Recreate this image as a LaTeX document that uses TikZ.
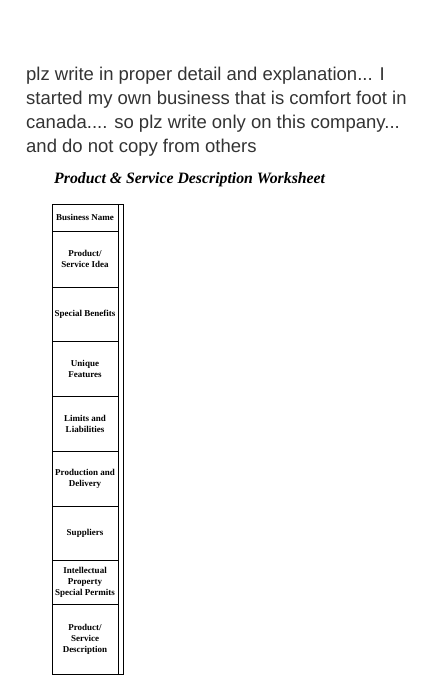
\documentclass[tikz,border=0pt]{standalone}
\usepackage{fontspec}
\setmainfont{Liberation Serif}
\newfontfamily\postfont{Liberation Sans}
\usetikzlibrary{positioning}
\definecolor{posttext}{HTML}{333333}

\tikzset{
  cell/.style={draw, line width=0.8pt, minimum width=66pt, inner sep=0pt, outer sep=0pt,
    align=center, font=\fontsize{9}{11}\selectfont\bfseries},
}

\begin{document}
\begin{tikzpicture}[x=1pt,y=-1pt]
\useasboundingbox (0,0) rectangle (442,700);

\node [anchor=north west, align=left, text=posttext, inner sep=0pt,
  font=\postfont\fontsize{18.5}{24}\selectfont] (post) at (26,67)
  {plz write in proper detail and explanation... I\\
   started my own business that is comfort foot in\\
   canada.... so plz write only on this company...\\
   and do not copy from others};

\node [anchor=west, inner sep=0pt, font=\fontsize{15.8}{17}\selectfont\bfseries\itshape] (title) at (54,180)
  {Product \& Service Description Worksheet};

\node [cell, minimum height=27pt, anchor=north west] (name) at (52,204) {Business Name};
\node [cell, minimum height=56pt, below=0pt of name] (idea) {Product/\\Service Idea};
\node [cell, minimum height=54pt, below=0pt of idea] (benefits) {Special Benefits};
\node [cell, minimum height=55pt, below=0pt of benefits] (unique) {Unique\\Features};
\node [cell, minimum height=55pt, below=0pt of unique] (limits) {Limits and\\Liabilities};
\node [cell, minimum height=55pt, below=0pt of limits] (delivery) {Production and\\Delivery};
\node [cell, minimum height=54pt, below=0pt of delivery] (suppliers) {Suppliers};
\node [cell, minimum height=44pt, below=0pt of suppliers] (property) {Intellectual\\Property\\Special Permits};
\node [cell, minimum height=70pt, below=0pt of property] (desc) {Product/\\Service\\Description};

\coordinate (edge) at ([xshift=5pt]desc.south east);
\draw [line width=0.8pt] (name.north east) rectangle (edge);
\end{tikzpicture}
\end{document}
